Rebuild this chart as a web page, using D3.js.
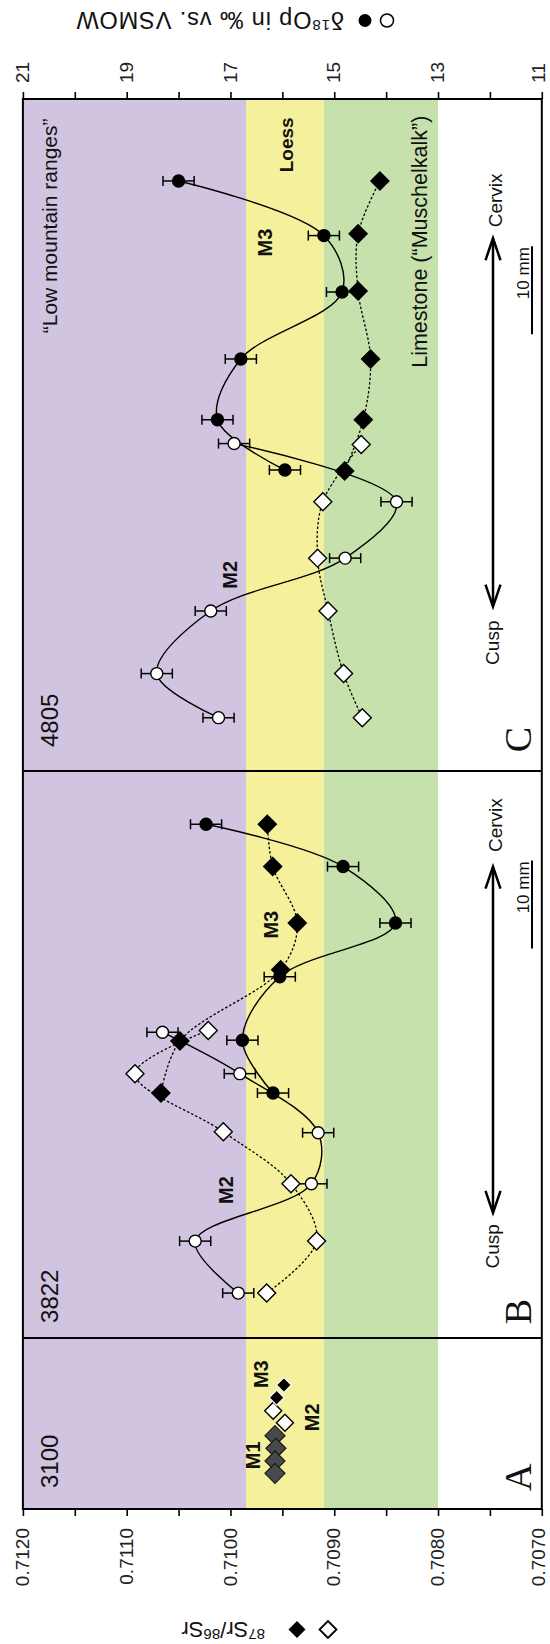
<!DOCTYPE html>
<html>
<head>
<meta charset="utf-8">
<script src="https://cdn.jsdelivr.net/npm/d3@7"></script>
<style>
html,body{margin:0;padding:0;background:#fff;}
svg{display:block;}
</style>
</head>
<body>
<svg id="chart" width="550" height="1644"></svg>
<script>
// ================= DATA =================
// axis ticks (shared positions: 87Sr/86Sr bottom, d18O top)
const srTickValues = [0.7070,0.7075,0.7080,0.7085,0.7090,0.7095,0.7100,0.7105,0.7110,0.7115,0.7120];
const srTickLabels = ["0.7070","","0.7080","","0.7090","","0.7100","","0.7110","","0.7120"];
const oTickValues = [11,12,13,14,15,16,17,18,19,20,21];
const oTickLabels = ["11","","13","","15","","17","","19","","21"];

// geological ranges of 87Sr/86Sr
const bandNames = ["Low mountain ranges","Loess","Limestone"];
const bandLow  = [0.70985, 0.7091, 0.7080];
const bandHigh = [0.7120, 0.70985, 0.7091];

// panels (position along tooth in mm, cusp -> cervix)
const panelLetters = ["A","B","C"];
const panelSamples = ["3100","3822","4805"];
const panelFrom = [0, 19.4, 83.74];
const panelTo   = [19.4, 83.74, 160];

const oError = 0.3; // +/- per mil

// Panel C (4805)
const cM3Pos   = [150.7,144.5,138.1,130.5,123.6,117.9];
const cM3O     = [18.0,15.2,14.85,16.8,17.25,15.95];
const cM3SrPos = [150.7,144.7,138.2,130.5,123.6,117.8];
const cM3Sr    = [0.70856,0.70877,0.70877,0.70865,0.70872,0.70890];
const cM2Pos   = [120.9,114.3,107.9,101.9,94.8,89.8];
const cM2O     = [16.93,13.80,14.79,17.38,18.42,17.23];
const cM2SrPos = [120.8,114.3,107.9,101.9,94.8,89.8];
const cM2Sr    = [0.70874,0.70911,0.70916,0.70906,0.70891,0.70873];

// Panel B (3822)
const bM3Pos   = [77.7,72.9,66.5,60.4,53.2,47.2];
const bM3O     = [17.47,14.83,13.82,16.05,16.77,16.18];
const bM3SrPos = [77.7,72.9,66.5,61.2,53.1,47.2];
const bM3Sr    = [0.709645,0.709593,0.709356,0.709516,0.710487,0.710670];
const bM2Pos   = [54.1,49.4,42.7,36.9,30.4,24.5];
const bM2O     = [18.31,16.82,15.31,15.44,17.68,16.85];
const bM2SrPos = [54.3,49.4,42.8,36.9,30.4,24.5];
const bM2Sr    = [0.710214,0.710920,0.710069,0.709417,0.709170,0.709651];

// Panel A (3100)
const aM3Pos = [14.07,12.63];
const aM3Sr  = [0.709485,0.709555];
const aM2Pos = [11.15,9.79];
const aM2Sr  = [0.709588,0.709475];
const aM1Pos = [8.32,6.89,5.45,4.05];
const aM1Sr  = [0.709571,0.709562,0.709571,0.709571];

// ================= STYLE / LAYOUT =================
const FONT = "'Liberation Sans', Arial, Helvetica, sans-serif";
const SERIF = "'Liberation Serif', 'Times New Roman', serif";
const bandColors = ["#d1c4e0","#f4f09b","#c6e1ab"];
const X0 = 22.9, X1 = 541.8, Y0 = 99, Y1 = 1509;

const svg = d3.select("#chart");
const xSr = d3.scaleLinear().domain([0.7120, 0.7070]).range([X0, X1]);
const xO  = d3.scaleLinear().domain([21, 11]).range([X0, X1]);
const y   = d3.scaleLinear().domain([0, 160]).range([Y1, Y0]);

const zip = (p, v) => p.map((d, i) => ({p: d, v: v[i]}));

// bands
bandLow.forEach((lo, i) => {
  svg.append("rect")
    .attr("x", xSr(bandHigh[i])).attr("y", Y0)
    .attr("width", xSr(lo) - xSr(bandHigh[i])).attr("height", Y1 - Y0)
    .attr("fill", bandColors[i]);
});

// lines
const lineO = d3.line().x(d => xO(d.v)).y(d => y(d.p)).curve(d3.curveCatmullRom.alpha(0.5));
const lineSr = d3.line().x(d => xSr(d.v)).y(d => y(d.p)).curve(d3.curveCatmullRom.alpha(0.5));

const srSeries = [
  {d: zip(cM3SrPos, cM3Sr), fill: "#000"},
  {d: zip(cM2SrPos, cM2Sr), fill: "#fff"},
  {d: zip(bM3SrPos, bM3Sr), fill: "#000"},
  {d: zip(bM2SrPos, bM2Sr), fill: "#fff"}
];
const oSeries = [
  {d: zip(cM3Pos, cM3O), fill: "#000"},
  {d: zip(cM2Pos, cM2O), fill: "#fff"},
  {d: zip(bM3Pos, bM3O), fill: "#000"},
  {d: zip(bM2Pos, bM2O), fill: "#fff"}
];

srSeries.forEach(s => {
  svg.append("path").attr("d", lineSr(s.d)).attr("fill", "none")
    .attr("stroke", "#000").attr("stroke-width", 1.3).attr("stroke-dasharray", "2.5,2");
});
oSeries.forEach(s => {
  svg.append("path").attr("d", lineO(s.d)).attr("fill", "none")
    .attr("stroke", "#000").attr("stroke-width", 1.4);
});

// error bars
oSeries.forEach(s => {
  s.d.forEach(pt => {
    const yy = y(pt.p), xa = xO(pt.v - oError), xb = xO(pt.v + oError);
    const g = svg.append("g").attr("stroke", "#000").attr("stroke-width", 1.5);
    g.append("line").attr("x1", xa).attr("x2", xb).attr("y1", yy).attr("y2", yy);
    g.append("line").attr("x1", xa).attr("x2", xa).attr("y1", yy - 5).attr("y2", yy + 5);
    g.append("line").attr("x1", xb).attr("x2", xb).attr("y1", yy - 5).attr("y2", yy + 5);
  });
});

const diamond = (cx, cy, h) => `M${cx},${cy - h}L${cx + h},${cy}L${cx},${cy + h}L${cx - h},${cy}Z`;

// Sr diamonds
srSeries.forEach(s => {
  s.d.forEach(pt => {
    svg.append("path").attr("d", diamond(xSr(pt.v), y(pt.p), 9))
      .attr("fill", s.fill).attr("stroke", "#000").attr("stroke-width", 1.4);
  });
});
// O circles
oSeries.forEach(s => {
  s.d.forEach(pt => {
    svg.append("circle").attr("cx", xO(pt.v)).attr("cy", y(pt.p)).attr("r", 6)
      .attr("fill", s.fill).attr("stroke", "#000").attr("stroke-width", 1.4);
  });
});

// Panel A diamonds
zip(aM1Pos, aM1Sr).forEach(pt => {
  svg.append("path").attr("d", diamond(xSr(pt.v), y(pt.p), 10))
    .attr("fill", "#474a4a").attr("stroke", "#1a1a1a").attr("stroke-width", 1.2);
});
zip(aM2Pos, aM2Sr).forEach(pt => {
  svg.append("path").attr("d", diamond(xSr(pt.v), y(pt.p), 8.5))
    .attr("fill", "#fff").attr("stroke", "#000").attr("stroke-width", 1.4);
});
zip(aM3Pos, aM3Sr).forEach(pt => {
  svg.append("path").attr("d", diamond(xSr(pt.v), y(pt.p), 7.5))
    .attr("fill", "#000").attr("stroke", "#fff").attr("stroke-width", 1.2);
});

// frame + panel separators
svg.append("rect").attr("x", X0).attr("y", Y0).attr("width", X1 - X0).attr("height", Y1 - Y0)
  .attr("fill", "none").attr("stroke", "#000").attr("stroke-width", 2);
panelFrom.slice(1).forEach(p => {
  svg.append("line").attr("x1", X0).attr("x2", X1).attr("y1", y(p)).attr("y2", y(p))
    .attr("stroke", "#000").attr("stroke-width", 2);
});

// axes
const oLab = new Map(oTickValues.map((v, i) => [v, oTickLabels[i]]));
const srLab = new Map(srTickValues.map((v, i) => [v, srTickLabels[i]]));

const gTop = svg.append("g").attr("transform", `translate(0,${Y0})`)
  .call(d3.axisTop(xO).tickValues(oTickValues).tickSize(7).tickFormat(d => oLab.get(d)));
gTop.select(".domain").remove();
gTop.selectAll("line").attr("stroke", "#000").attr("stroke-width", 1.6);
gTop.selectAll("text")
  .attr("transform", "rotate(-90)").attr("x", 16).attr("y", 0)
  .attr("dy", d => d === 11 ? "0.12em" : "0.3em")
  .attr("text-anchor", "start").attr("font-size", 19).attr("font-family", FONT).attr("fill", "#222");

const gBot = svg.append("g").attr("transform", `translate(0,${Y1})`)
  .call(d3.axisBottom(xSr).tickValues(srTickValues).tickSize(7).tickFormat(d => srLab.get(d)));
gBot.select(".domain").remove();
gBot.selectAll("line").attr("stroke", "#000").attr("stroke-width", 1.6);
gBot.selectAll("text")
  .attr("transform", "rotate(-90)").attr("x", -19).attr("y", 0)
  .attr("dy", d => d === 0.7070 ? "0.12em" : "0.3em")
  .attr("text-anchor", "end").attr("font-size", 19).attr("font-family", FONT).attr("fill", "#222");

// rotated text helper
function rotText(x, yy, str, size, anchor, weight, family) {
  return svg.append("text")
    .attr("transform", `translate(${x},${yy}) rotate(-90)`)
    .attr("text-anchor", anchor)
    .attr("font-size", size)
    .attr("font-weight", weight || "normal")
    .attr("font-family", family || FONT)
    .attr("fill", "#111")
    .text(str);
}

// range labels
rotText(57, y(145.6), "\u201CLow mountain ranges\u201D", 21, "middle");
rotText(293, y(154.8), "Loess", 19, "middle", "bold");
rotText(427, y(143.8), "Limestone (\u201CMuschelkalk\u201D)", 21.5, "middle");

// tooth labels
rotText(272, y(143.7), "M3", 20, "middle", "bold");
rotText(237, y(106.0), "M2", 20, "middle", "bold");
rotText(278, y(66.3), "M3", 20, "middle", "bold");
rotText(233, y(36.2), "M2", 20, "middle", "bold");
rotText(268, y(15.3), "M3", 20, "middle", "bold");
rotText(319, y(10.4), "M2", 20, "middle", "bold");
rotText(260, y(6.1), "M1", 20, "middle", "bold");

// sample numbers & panel letters
const sampleStart = [2.38, 21.11, 86.47];
const letterCenter = [3.6, 22.4, 87.3];
panelSamples.forEach((s, i) => rotText(58, y(sampleStart[i]), s, 24, "start"));
panelLetters.forEach((s, i) => rotText(531, y(letterCenter[i]), s, 38, "middle", "normal", SERIF));

// cusp/cervix arrows and scale bars (panels B and C)
const arrowTop = [72.9, 144.2], arrowBot = [33.6, 102.4];
const cervixAt = [77.6, 148.5], cuspAt = [29.8, 98.3];
const barTop = [73.6, 143.3], barLen = 10;
[0, 1].forEach(i => {
  const yt = y(arrowTop[i]), yb = y(arrowBot[i]), ax = 493;
  svg.append("line").attr("x1", ax).attr("x2", ax).attr("y1", yt + 1).attr("y2", yb - 1)
    .attr("stroke", "#000").attr("stroke-width", 2.5);
  svg.append("path").attr("d", `M${ax - 7.5},${yt + 22}L${ax},${yt}L${ax + 7.5},${yt + 22}`)
    .attr("fill", "none").attr("stroke", "#000").attr("stroke-width", 2.5);
  svg.append("path").attr("d", `M${ax - 7.5},${yb - 22}L${ax},${yb}L${ax + 7.5},${yb - 22}`)
    .attr("fill", "none").attr("stroke", "#000").attr("stroke-width", 2.5);
  rotText(502, y(cervixAt[i]), "Cervix", 19, "middle");
  rotText(499, y(cuspAt[i]), "Cusp", 19, "middle");
  svg.append("line").attr("x1", 532).attr("x2", 532)
    .attr("y1", y(barTop[i])).attr("y2", y(barTop[i] - barLen))
    .attr("stroke", "#000").attr("stroke-width", 2);
  rotText(529, y(barTop[i]) + 1, "10 mm", 17, "end");
});

// axis titles (upside down)
const gT = svg.append("g").attr("transform", "translate(392,20) rotate(180)");
gT.append("circle").attr("cx", 5).attr("cy", -0.5).attr("r", 6.5)
  .attr("fill", "#fff").attr("stroke", "#000").attr("stroke-width", 1.5);
gT.append("circle").attr("cx", 27).attr("cy", -0.5).attr("r", 6.5).attr("fill", "#000");
const tt = gT.append("text").attr("x", 48).attr("y", 8).attr("font-size", 23.5)
  .attr("letter-spacing", 0.9).attr("font-family", FONT).attr("fill", "#111");
tt.append("tspan").text("\u03B4");
tt.append("tspan").attr("dy", -8).attr("font-size", 15).text("18");
tt.append("tspan").attr("dy", 8).text("Op in \u2030 vs. VSMOW");

const gB = svg.append("g").attr("transform", "translate(337,1629) rotate(180)");
gB.append("path").attr("d", diamond(9, -0.5, 8.5)).attr("fill", "#fff").attr("stroke", "#000").attr("stroke-width", 1.8);
gB.append("path").attr("d", diamond(40, -0.5, 8.5)).attr("fill", "#000");
const tb = gB.append("text").attr("x", 72).attr("y", 7.3).attr("font-size", 22).attr("font-family", FONT).attr("fill", "#111");
tb.append("tspan").attr("dy", -7).attr("font-size", 15).text("87");
tb.append("tspan").attr("dy", 7).text("Sr/");
tb.append("tspan").attr("dy", -7).attr("font-size", 15).text("86");
tb.append("tspan").attr("dy", 7).text("Sr");
</script>
</body>
</html>
